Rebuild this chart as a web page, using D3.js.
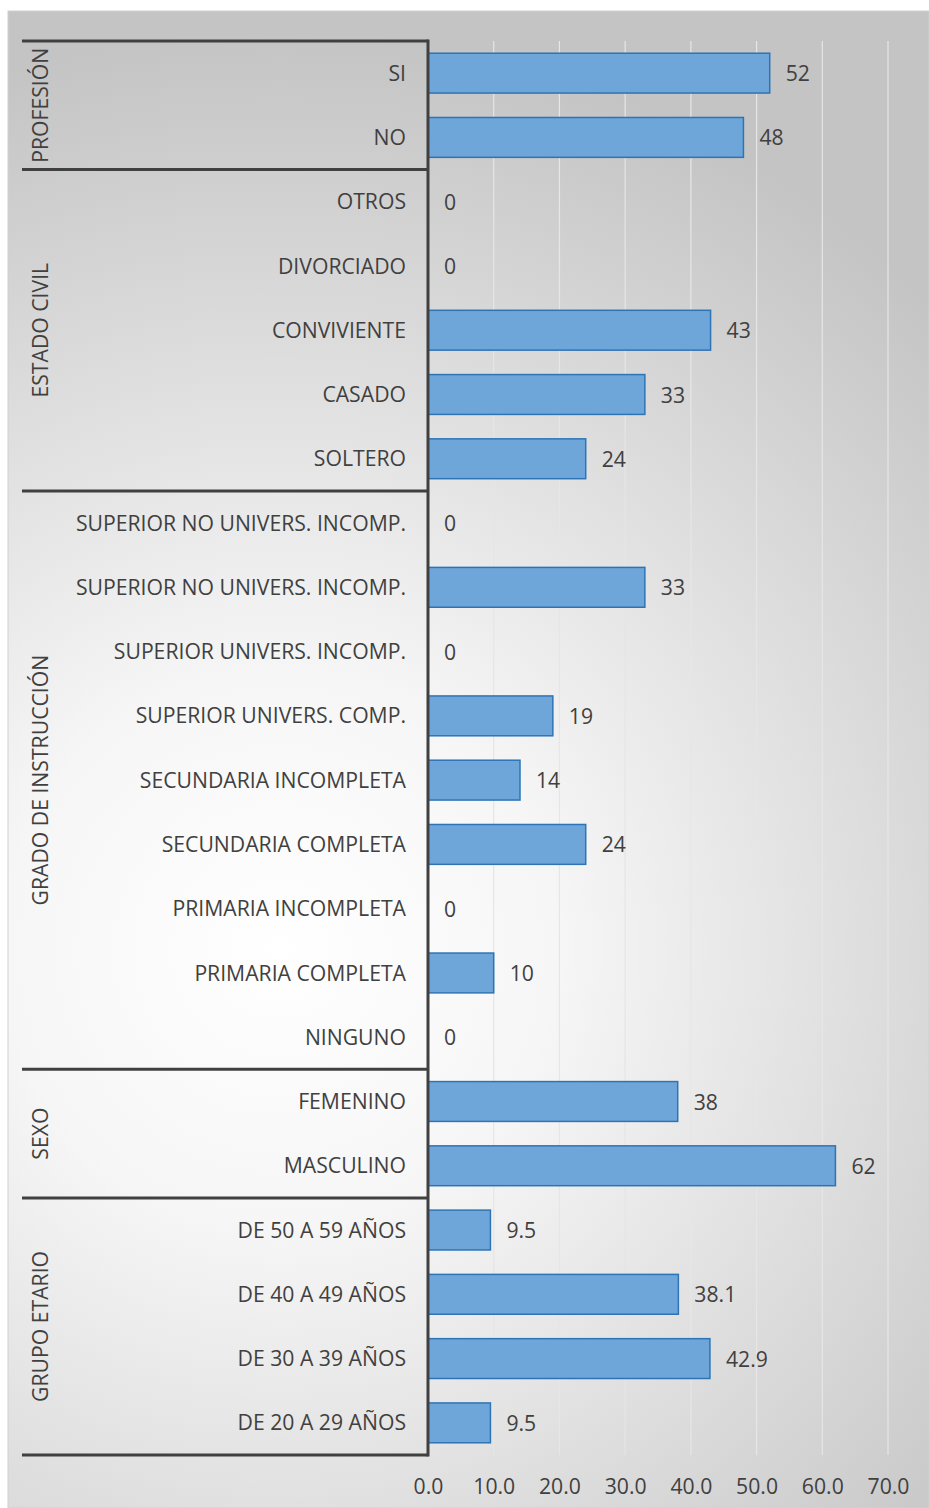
<!DOCTYPE html>
<html>
<head>
<meta charset="utf-8">
<script src="https://cdn.jsdelivr.net/npm/d3@7"></script>
<style>
  html, body { margin: 0; padding: 0; background: #ffffff; }
  svg { display: block; }
  text { font-family: "Open Sans", "Noto Sans", sans-serif; fill: #404040; }
</style>
</head>
<body>
<svg id="chart" width="929" height="1508"></svg>
<script>
// Category groups (top to bottom)
const groups = ["PROFESIÓN", "ESTADO CIVIL", "GRADO DE INSTRUCCIÓN", "SEXO", "GRUPO ETARIO"];
const groupSizes = [2, 5, 9, 2, 4];
const categories = [
  "SI", "NO",
  "OTROS", "DIVORCIADO", "CONVIVIENTE", "CASADO", "SOLTERO",
  "SUPERIOR NO UNIVERS. INCOMP.", "SUPERIOR NO UNIVERS. INCOMP.", "SUPERIOR UNIVERS. INCOMP.",
  "SUPERIOR UNIVERS. COMP.", "SECUNDARIA INCOMPLETA", "SECUNDARIA COMPLETA",
  "PRIMARIA INCOMPLETA", "PRIMARIA COMPLETA", "NINGUNO",
  "FEMENINO", "MASCULINO",
  "DE 50 A 59 AÑOS", "DE 40 A 49 AÑOS", "DE 30 A 39 AÑOS", "DE 20 A 29 AÑOS"
];
const values = [
  52, 48,
  0, 0, 43, 33, 24,
  0, 33, 0, 19, 14, 24, 0, 10, 0,
  38, 62,
  9.5, 38.1, 42.9, 9.5
];
const valueLabels = [
  "52", "48",
  "0", "0", "43", "33", "24",
  "0", "33", "0", "19", "14", "24", "0", "10", "0",
  "38", "62",
  "9.5", "38.1", "42.9", "9.5"
];
const xTicks = [0, 10, 20, 30, 40, 50, 60, 70];

const svg = d3.select("#chart");
const W = 929, H = 1508;
const FS = 21.2;

// Chart background with soft radial shading
const defs = svg.append("defs");
const grad = defs.append("radialGradient")
  .attr("id", "bg").attr("gradientUnits", "userSpaceOnUse")
  .attr("cx", 280).attr("cy", 950).attr("r", 920);
grad.append("stop").attr("offset", "0%").attr("stop-color", "#ffffff");
grad.append("stop").attr("offset", "30%").attr("stop-color", "#f6f6f6");
grad.append("stop").attr("offset", "100%").attr("stop-color", "#c4c4c4");

svg.append("rect").attr("x", 8).attr("y", 11).attr("width", W - 8).attr("height", H - 11)
  .attr("fill", "url(#bg)").attr("stroke", "#d0d0d0").attr("stroke-width", 1);

const plotLeft = 428, plotRight = 888, plotTop = 41, plotBottom = 1455;

const x = d3.scaleLinear().domain([0, 70]).range([plotLeft, plotRight]);
const y = d3.scaleBand().domain(d3.range(categories.length)).range([plotTop, plotBottom]).paddingInner(0.38).paddingOuter(0.19);
const step = y.step();

// Vertical gridlines
svg.append("g").selectAll("line").data(xTicks.slice(1)).join("line")
  .attr("x1", d => x(d)).attr("x2", d => x(d))
  .attr("y1", plotTop).attr("y2", plotBottom)
  .attr("stroke", "#e6e6e6").attr("stroke-width", 1.2);

// Bars
svg.append("g").selectAll("rect").data(values).join("rect")
  .attr("x", x(0))
  .attr("y", (d, i) => y(i))
  .attr("width", d => x(d) - x(0))
  .attr("height", y.bandwidth())
  .attr("fill", "#6fa6da")
  .attr("stroke", "#2e74b5")
  .attr("stroke-width", 1.5)
  .attr("display", d => d > 0 ? null : "none");

// Value labels
svg.append("g").selectAll("text").data(values).join("text")
  .attr("x", d => x(d) + 16)
  .attr("y", (d, i) => y(i) + y.bandwidth() / 2)
  .attr("dy", "0.38em")
  .attr("font-size", FS)
  .text((d, i) => valueLabels[i]);

// Category labels
svg.append("g").selectAll("text").data(categories).join("text")
  .attr("x", plotLeft - 22)
  .attr("y", (d, i) => y(i) + y.bandwidth() / 2)
  .attr("dy", "0.36em")
  .attr("text-anchor", "end")
  .attr("font-size", FS)
  .text(d => d);

// Group separators and group titles
const bounds = [0];
groupSizes.forEach(n => bounds.push(bounds[bounds.length - 1] + n));
const edgeY = k => plotTop + k * step;

svg.append("g").selectAll("line").data(bounds).join("line")
  .attr("x1", 22).attr("x2", plotLeft)
  .attr("y1", d => edgeY(d)).attr("y2", d => edgeY(d))
  .attr("stroke", "#404040").attr("stroke-width", 3);

svg.append("g").selectAll("text").data(groups).join("text")
  .attr("transform", (d, i) => {
    const cy = (edgeY(bounds[i]) + edgeY(bounds[i + 1])) / 2;
    return `translate(40,${cy}) rotate(-90)`;
  })
  .attr("dy", "0.36em")
  .attr("text-anchor", "middle")
  .attr("font-size", FS)
  .text(d => d);

// Category axis line
svg.append("line")
  .attr("x1", plotLeft).attr("x2", plotLeft)
  .attr("y1", plotTop - 1.5).attr("y2", plotBottom + 1.5)
  .attr("stroke", "#404040").attr("stroke-width", 3);

// Value axis
const xAxis = svg.append("g")
  .attr("transform", `translate(0,${plotBottom})`)
  .call(d3.axisBottom(x).tickValues(xTicks).tickFormat(d3.format(".1f")).tickSize(0).tickPadding(24));
xAxis.select(".domain").remove();
xAxis.selectAll("text")
  .attr("font-size", FS)
  .attr("fill", "#404040")
  .style("font-family", "\"Open Sans\", \"Noto Sans\", sans-serif");
</script>
</body>
</html>
